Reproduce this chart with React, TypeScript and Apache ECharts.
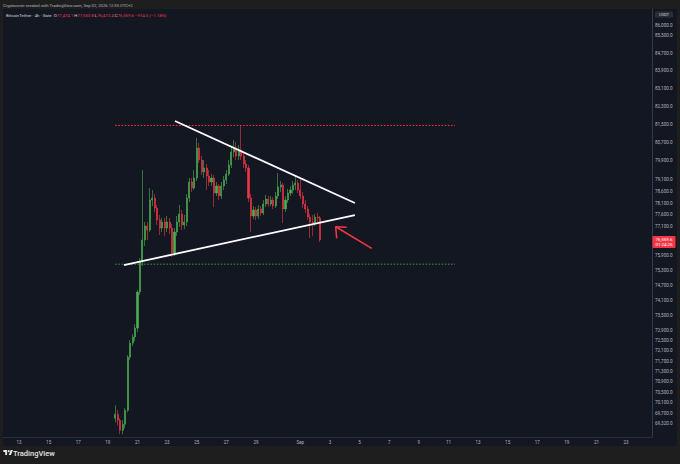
import React, { useEffect, useRef } from 'react';
import * as echarts from 'echarts';

// ---- time axis (4h slots) ----
const axisStart = '2026-08-12 00:00';
const slotCount = 263;
const firstCandleTime = '2026-08-19 12:00';

// ---- candles: [open, close, low, high] (BTC/USDT 4h) ----
const candles: number[][] = [
  [69515, 69666, 69365, 70008],
  [69666, 69440, 69252, 69818],
  [69440, 69065, 68916, 69515],
  [69065, 69290, 68916, 69440],
  [69290, 69818, 69140, 69894],
  [69818, 71854, 69742, 71932],
  [71854, 72402, 71737, 72519],
  [72402, 72638, 72284, 72756],
  [72638, 72993, 72480, 73152],
  [72993, 74431, 72835, 74511],
  [74431, 75649, 74310, 75813],
  [75649, 76555, 75485, 79510],
  [76555, 77137, 76307, 77305],
  [77137, 76970, 76555, 77305],
  [76970, 78230, 76887, 78739],
  [78230, 78314, 77977, 78654],
  [78314, 77892, 77724, 78484],
  [77892, 77388, 77179, 78019],
  [77388, 77054, 76762, 77598],
  [77054, 77305, 76887, 77472],
  [77305, 77054, 76720, 77472],
  [77054, 77305, 76887, 77556],
  [77305, 77054, 76804, 77472],
  [77054, 76019, 75854, 77221],
  [76019, 76887, 75895, 77054],
  [76887, 77305, 76720, 77556],
  [77305, 77640, 77096, 78019],
  [77640, 77179, 76970, 77808],
  [77179, 77305, 77012, 77598],
  [77305, 78314, 77137, 78484],
  [78314, 78996, 78145, 79167],
  [78996, 78739, 78569, 79167],
  [78739, 79167, 78654, 79510],
  [79167, 80463, 79038, 80899],
  [80463, 79941, 79812, 80681],
  [79941, 79424, 79295, 80115],
  [79424, 79596, 79167, 79941],
  [79596, 79253, 78654, 79769],
  [79253, 78996, 78825, 79510],
  [78996, 79167, 78825, 79338],
  [79167, 78526, 77934, 79295],
  [78526, 78825, 78399, 78996],
  [78825, 78399, 78230, 78910],
  [78399, 78825, 78272, 78996],
  [78825, 79081, 78654, 79253],
  [79081, 79338, 78910, 79510],
  [79338, 79726, 79253, 79941],
  [79726, 80289, 79596, 80550],
  [80289, 80463, 80071, 80812],
  [80463, 80115, 79941, 80724],
  [80115, 80376, 79941, 80593],
  [80376, 80115, 79941, 81450],
  [80115, 79769, 79596, 80289],
  [79769, 79596, 79424, 79941],
  [79596, 78314, 78145, 79726],
  [78314, 77556, 76887, 78484],
  [77556, 77808, 77430, 77977],
  [77808, 77556, 77388, 77934],
  [77556, 77850, 77430, 78019],
  [77850, 77682, 77556, 77977],
  [77682, 78061, 77598, 78230],
  [78061, 78272, 77934, 78441],
  [78272, 78061, 77934, 78399],
  [78061, 78230, 77977, 78399],
  [78230, 77977, 77850, 78356],
  [77977, 78399, 77892, 78569],
  [78399, 78782, 78272, 79381],
  [78782, 78867, 78569, 79038],
  [78867, 77850, 77263, 78953],
  [77850, 78230, 77724, 78399],
  [78230, 78526, 78103, 78697],
  [78526, 78654, 78399, 78825],
  [78654, 78867, 78484, 79038],
  [78867, 78953, 78654, 79295],
  [78953, 78654, 78526, 79081],
  [78654, 78399, 78272, 79167],
  [78399, 78061, 77892, 78569],
  [78061, 77850, 77682, 78230],
  [77850, 77514, 77388, 77977],
  [77514, 77305, 76637, 77640],
  [77305, 77263, 76720, 77598],
  [77263, 77514, 77137, 77640],
  [77514, 77474.1, 77221, 77682],
  [77474.1, 76559.6, 76472.4, 77553.8],
];

// ---- price axis ----
const priceMin = 68815;
const priceMax = 86748;
const yTickValues = [
  86000, 85500, 84700, 83900, 83100, 82300, 81500, 80700, 79900, 79100, 78600, 78100, 77600, 77100,
  75900, 75300, 74700, 74100, 73500, 72900, 72500, 72100, 71700, 71300, 70900, 70500, 70100, 69700, 69320,
];

// ---- date tick labels ----
const xTickDays = [
  '08-13', '08-15', '08-17', '08-19', '08-21', '08-23', '08-25', '08-27', '08-29', '09-01',
  '09-03', '09-05', '09-07', '09-09', '09-11', '09-13', '09-15', '09-17', '09-19', '09-21', '09-23',
];
const xTickTexts = ['13', '15', '17', '19', '21', '23', '25', '27', '29', 'Sep', '3', '5', '7', '9', '11', '13', '15', '17', '19', '21', '23'];

// ---- drawings: [time, price] ----
const upperTrend: [string, number][] = [['2026-08-23 12:48', 81647], ['2026-09-04 16:24', 78104]];
const lowerTrend: [string, number][] = [['2026-08-20 02:00', 75526], ['2026-09-04 16:24', 77597]];
const resistanceLevel: [string, number][] = [['2026-08-19 11:36', 81450], ['2026-09-11 10:40', 81450]];
const supportLevel: [string, number][] = [['2026-08-19 11:36', 75560], ['2026-09-11 10:40', 75560]];
const arrowShaft: [string, number][] = [['2026-09-03 09:17', 77108], ['2026-09-05 19:38', 76212]];
const arrowHead: [string, number][] = [['2026-09-03 10:55', 76625], ['2026-09-03 09:17', 77108], ['2026-09-04 03:07', 77083]];

const headerText = 'Cryptorover created with TradingView.com, Sep 02, 2026 12:35 UTC+2';
const symbolTitle = 'BitcoinTether · 4h · Gate';
const countdown = '01:24:25';

const UP = '#4caf50';
const DOWN = '#f23645';
const FONT = 'Roboto, "Noto Sans", sans-serif';

const pad = (n: number) => String(n).padStart(2, '0');
const fmtT = (d: Date) =>
  `${d.getFullYear()}-${pad(d.getMonth() + 1)}-${pad(d.getDate())} ${pad(d.getHours())}:${pad(d.getMinutes())}`;
const parseT = (s: string) => {
  const [date, time] = s.split(' ');
  const [y, m, d] = date.split('-').map(Number);
  const [hh, mm] = time.split(':').map(Number);
  return new Date(y, m - 1, d, hh, mm).getTime();
};
const fmt1 = (v: number) =>
  Number(v).toLocaleString('en-US', { minimumFractionDigits: 1, maximumFractionDigits: 1 });

const H4 = 4 * 3600 * 1000;

const TV_LOGO = 'M14 22H7V11H0V4h14v18zM28 22h-8l7.5-18h8L28 22z';
let registered = false;
function registerLogo() {
  if (registered) return;
  echarts.graphic.registerShape('tvlogo', echarts.graphic.extendPath(TV_LOGO, {}) as any);
  registered = true;
}

export default function App() {
  const ref = useRef<HTMLDivElement>(null);

  useEffect(() => {
    registerLogo();
    const chart = echarts.init(ref.current!, undefined, { renderer: 'svg' });

    const t0 = parseT(axisStart);
    const categories = Array.from({ length: slotCount }, (_, i) => fmtT(new Date(t0 + i * H4)));
    const firstIdx = Math.round((parseT(firstCandleTime) - t0) / H4);
    const candleData = candles.map((c, j) => [categories[firstIdx + j], c[0], c[1], c[2], c[3]]);
    const tickIndex = (v: string) => (v.endsWith('00:00') ? xTickDays.indexOf(v.slice(5, 10)) : -1);
    const toXY = (arr: [string, number][]) => arr.map(([t, p]) => [parseT(t), p]);

    const last = candles[candles.length - 1];
    const prevClose = candles[candles.length - 2][1];
    const chg = last[1] - prevClose;
    const pct = (chg / prevClose) * 100;
    const sign = (n: number) => (n < 0 ? '\u2212' : '+');
    const chgText = `${sign(chg)}${fmt1(Math.abs(chg))} (${sign(pct)}${Math.abs(pct).toFixed(2)}%)`;

    const lineSeries = (name: string, data: [string, number][], color: string, width: number, type: any = 'solid', opacity = 1) => ({
      type: 'line',
      name,
      xAxisIndex: 1,
      yAxisIndex: 0,
      data: toXY(data),
      symbol: 'none',
      showSymbol: false,
      silent: true,
      animation: false,
      color,
      itemStyle: { color },
      lineStyle: { color, width, type, opacity },
      z: 5,
    });

    const baseGraphic: any[] = [
      { type: 'rect', z: -10, shape: { x: 3, y: 9, width: 674, height: 437 }, style: { fill: '#131722' }, silent: true },
      {
        type: 'text', x: 3, y: 5, silent: true,
        style: { text: headerText, fill: '#b2b5be', fontSize: 4.2, fontFamily: FONT, textVerticalAlign: 'middle' },
      },
      {
        type: 'text', x: 6, y: 15, silent: true,
        style: {
          text: `{n|${symbolTitle}}  {k|O}{v|${fmt1(last[0])}} {k|H}{v|${fmt1(last[3])}} {k|L}{v|${fmt1(last[2])}} {k|C}{v|${fmt1(last[1])}} {v|${chgText}}`,
          fontSize: 4.3, fontFamily: FONT, textVerticalAlign: 'middle',
          rich: {
            n: { fill: '#d1d4dc', fontSize: 4.3, fontFamily: FONT },
            k: { fill: '#d1d4dc', fontSize: 4.3, fontFamily: FONT },
            v: { fill: DOWN, fontSize: 4.3, fontFamily: FONT },
          },
        },
      },
      { type: 'rect', shape: { x: 655, y: 11.5, width: 18, height: 6, r: 1 }, style: { fill: '#2a2e39' }, silent: true },
      {
        type: 'text', x: 664, y: 14.5, silent: true,
        style: { text: 'USDT', fill: '#d1d4dc', fontSize: 4, fontFamily: FONT, textAlign: 'center', textVerticalAlign: 'middle' },
      },
      { type: 'tvlogo', x: 3.3, y: 449, scaleX: 0.27, scaleY: 0.27, style: { fill: '#e6e6e6' }, silent: true },
      { type: 'circle', shape: { cx: 3.3 + 20 * 0.27, cy: 449 + 8 * 0.27, r: 1.08 }, style: { fill: '#e6e6e6' }, silent: true },
      {
        type: 'text', x: 13, y: 453.5, silent: true,
        style: { text: 'TradingView', fill: '#e6e6e6', fontSize: 7.5, fontWeight: 500, fontFamily: FONT, textVerticalAlign: 'middle' },
      },
    ];

    const option: any = {
      animation: false,
      backgroundColor: '#1e1e1e',
      grid: { left: 3, right: 28, top: 9, bottom: 27, containLabel: false, outerBoundsMode: 'none' },
      xAxis: [
        {
          type: 'category',
          data: categories,
          boundaryGap: true,
          axisLine: { show: true, lineStyle: { color: '#2a2e39', width: 1 } },
          axisTick: { show: false },
          splitLine: { show: false },
          axisLabel: {
            interval: (_i: number, v: string) => tickIndex(v) >= 0,
            formatter: (v: string) => xTickTexts[tickIndex(v)] ?? '',
            color: '#b2b5be',
            fontSize: 4.5,
            margin: 2.5,
            fontFamily: FONT,
          },
        },
        {
          type: 'time',
          min: t0 - H4 / 2,
          max: t0 + (slotCount - 0.5) * H4,
          show: false,
        },
      ],
      yAxis: {
        type: 'log',
        logBase: 10,
        min: priceMin,
        max: priceMax,
        position: 'right',
        axisLine: { show: true, lineStyle: { color: '#363a45', width: 1 } },
        axisTick: { show: false },
        splitLine: { show: false },
        axisLabel: {
          customValues: yTickValues,
          formatter: (v: number) => fmt1(v),
          color: '#b2b5be',
          fontSize: 4.6,
          margin: 3,
          fontFamily: FONT,
        },
      },
      series: [
        lineSeries('resistance', resistanceLevel, '#ff3344', 1, [1.6, 1.6], 1),
        lineSeries('support', supportLevel, '#43a047', 1, [1.6, 1.6], 0.9),
        {
          type: 'candlestick',
          xAxisIndex: 0,
          yAxisIndex: 0,
          data: candleData,
          encode: { x: 0, y: [1, 2, 3, 4] },
          barWidth: 1.6,
          itemStyle: { color: UP, color0: DOWN, borderColor: UP, borderColor0: DOWN, borderWidth: 0.6 },
          z: 3,
        },
        lineSeries('upper', upperTrend, '#ffffff', 1.8),
        lineSeries('lower', lowerTrend, '#ffffff', 1.8),
        lineSeries('arrowShaft', arrowShaft, DOWN, 1.6),
        lineSeries('arrowHead', arrowHead, DOWN, 1.6),
      ],
      graphic: baseGraphic,
    };

    chart.setOption(option);

    // last-price tag on the price scale, placed through the axis scale
    const yPx = chart.convertToPixel({ yAxisIndex: 0 }, last[1]) as number;
    const tagTop = yPx - 4;
    chart.setOption({
      graphic: [
        ...baseGraphic,
        { type: 'rect', shape: { x: 652.5, y: tagTop, width: 23, height: 12, r: 0.8 }, style: { fill: DOWN }, silent: true, z: 10 },
        {
          type: 'text', x: 664, y: tagTop + 3.3, silent: true, z: 11,
          style: { text: fmt1(last[1]), fill: '#ffffff', fontSize: 4.4, fontFamily: FONT, textAlign: 'center', textVerticalAlign: 'middle' },
        },
        {
          type: 'text', x: 664, y: tagTop + 8.6, silent: true, z: 11,
          style: { text: countdown, fill: '#ffffff', fontSize: 4.4, fontFamily: FONT, textAlign: 'center', textVerticalAlign: 'middle' },
        },
      ],
    });

    return () => chart.dispose();
  }, []);

  return <div ref={ref} style={{ position: 'fixed', left: 0, top: 0, width: 680, height: 464 }} />;
}
